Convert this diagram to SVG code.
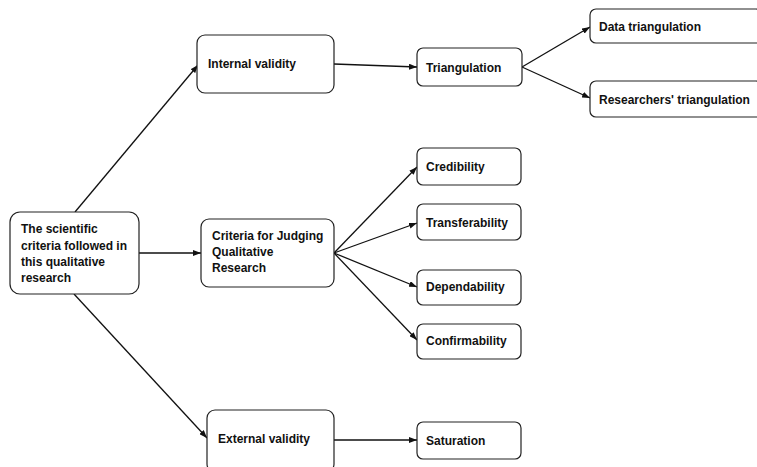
<svg xmlns="http://www.w3.org/2000/svg" width="757" height="467" viewBox="0 0 757 467">
<style>
.box{fill:#fff;stroke:#222;stroke-width:1.2}
.t{font-family:"Liberation Sans",Arial,sans-serif;font-weight:bold;font-size:12px;fill:#111}
.c{stroke:#111;stroke-width:1.3;fill:none;marker-end:url(#ah)}
</style>
<defs>
<marker id="ah" viewBox="0 0 8 6" refX="8" refY="3" markerWidth="8" markerHeight="6" markerUnits="userSpaceOnUse" orient="auto">
<path d="M0,0 L8,3 L0,6 Z" fill="#111"/>
</marker>
</defs>
<rect width="757" height="467" fill="#fff"/>
<g id="connectors">
<line class="c" x1="75" y1="212" x2="198" y2="65"/>
<line class="c" x1="139" y1="253" x2="201" y2="253"/>
<line class="c" x1="74" y1="294" x2="207" y2="438"/>
<line class="c" x1="334" y1="64" x2="417" y2="67"/>
<line class="c" x1="522" y1="67" x2="590" y2="27"/>
<line class="c" x1="522" y1="67" x2="590" y2="98"/>
<line class="c" x1="334" y1="253" x2="417" y2="167"/>
<line class="c" x1="334" y1="253" x2="417" y2="223"/>
<line class="c" x1="334" y1="253" x2="417" y2="287"/>
<line class="c" x1="334" y1="253" x2="417" y2="340"/>
<line class="c" x1="334" y1="440" x2="417" y2="440"/>
</g>
<g id="root">
<rect class="box" x="10" y="212" width="129" height="82" rx="10"/>
<text class="t" x="21" y="233">The scientific</text>
<text class="t" x="21" y="250">criteria followed in</text>
<text class="t" x="21" y="266">this qualitative</text>
<text class="t" x="21" y="282">research</text>
</g>
<g id="internal">
<rect class="box" x="197" y="35" width="137" height="58" rx="8"/>
<text class="t" x="208" y="68">Internal validity</text>
</g>
<g id="criteria">
<rect class="box" x="201" y="219" width="133" height="68" rx="8"/>
<text class="t" x="212" y="240">Criteria for Judging</text>
<text class="t" x="212" y="256">Qualitative</text>
<text class="t" x="212" y="272">Research</text>
</g>
<g id="external">
<rect class="box" x="207" y="410" width="127" height="62" rx="8"/>
<text class="t" x="218" y="443">External validity</text>
</g>
<g id="triangulation">
<rect class="box" x="417" y="48" width="105" height="38" rx="6"/>
<text class="t" x="426" y="72">Triangulation</text>
</g>
<g id="data-triangulation">
<rect class="box" x="590" y="9" width="172" height="34" rx="6"/>
<text class="t" x="599" y="31">Data triangulation</text>
</g>
<g id="researchers-triangulation">
<rect class="box" x="590" y="81" width="172" height="36" rx="6"/>
<text class="t" x="599" y="104">Researchers' triangulation</text>
</g>
<g id="credibility">
<rect class="box" x="417" y="148" width="104" height="37" rx="6"/>
<text class="t" x="426" y="171">Credibility</text>
</g>
<g id="transferability">
<rect class="box" x="417" y="204" width="104" height="36" rx="6"/>
<text class="t" x="426" y="227">Transferability</text>
</g>
<g id="dependability">
<rect class="box" x="417" y="270" width="104" height="35" rx="6"/>
<text class="t" x="426" y="291">Dependability</text>
</g>
<g id="confirmability">
<rect class="box" x="417" y="324" width="104" height="35" rx="6"/>
<text class="t" x="426" y="345">Confirmability</text>
</g>
<g id="saturation">
<rect class="box" x="417" y="422" width="104" height="37" rx="6"/>
<text class="t" x="426" y="445">Saturation</text>
</g>
</svg>
